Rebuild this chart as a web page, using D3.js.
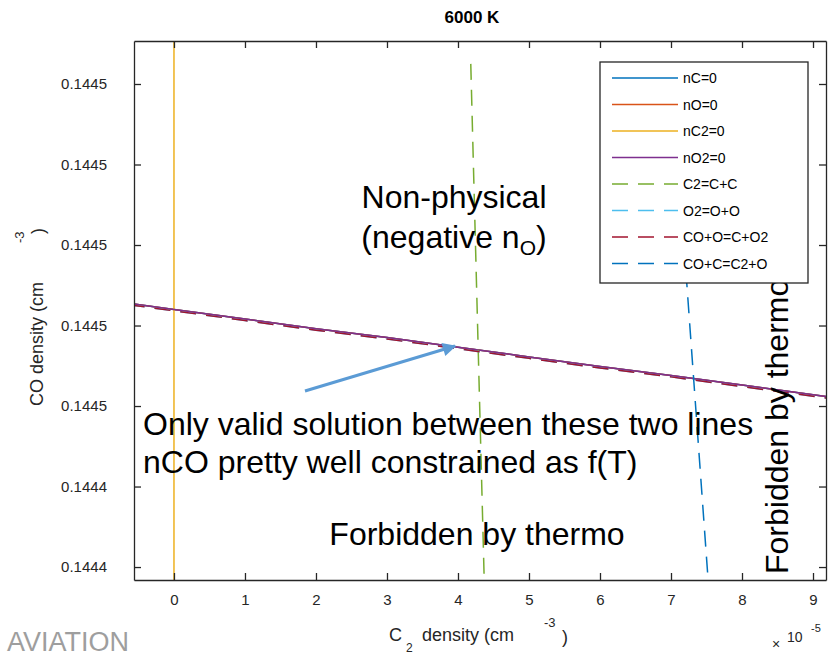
<!DOCTYPE html>
<html><head><meta charset="utf-8">
<script src="https://cdn.jsdelivr.net/npm/d3@7"></script>
<style>body{margin:0;background:#fff} svg{display:block} text{font-family:"Liberation Sans",Arial,Helvetica,sans-serif}</style>
</head><body><svg id="c" width="830" height="652"></svg>
<script>
// ---- data ----
const xTicks = [0,1,2,3,4,5,6,7,8,9];
const xTickLabels = ["0","1","2","3","4","5","6","7","8","9"];
const yTicks = [0.14444,0.14445,0.14446,0.14447,0.14448,0.14449,0.14450];
const yTickLabels = ["0.1444","0.1444","0.1445","0.1445","0.1445","0.1445","0.1445"];

// main CO line (nC=0, nO=0, nO2=0 overlap)
const xMain = [-1,0,1,2,3,4,5,6,7,8,9,10];
const yMain = [0.1444732,0.1444720,0.1444708,0.1444696,0.1444685,0.1444673,0.1444661,0.1444649,0.1444638,0.1444626,0.1444614,0.1444602];
// reaction lines lying on the main line
const yCOO  = [0.14447302,0.14447182,0.14447062,0.14446942,0.14446832,0.14446712,0.14446592,0.14446472,0.14446362,0.14446242,0.14446122,0.14446002];
// nC2 = 0
const xNC2 = [0,0];
const yNC2 = [0.1444370,0.1445060];
// C2=C+C
const xC2 = [4.18,4.372];
const yC2 = [0.1445025,0.1444375];
// CO+C=C2+O
const xCOC = [7.00,7.53];
const yCOC = [0.1445025,0.1444375];

const seriesNames  = ["nC=0","nO=0","nC2=0","nO2=0","C2=C+C","O2=O+O","CO+O=C+O2","CO+C=C2+O"];
const seriesColors = ["#0072BD","#D95319","#EDB120","#7E2F8E","#77AC30","#4DBEEE","#A2142F","#0072BD"];
const seriesDashed = [false,false,false,false,true,true,true,true];
const seriesX = [xMain,xMain,xNC2,xMain,xC2,xMain,xMain,xCOC];
const seriesY = [yMain,yMain,yNC2,yMain,yC2,yCOO,yCOO,yCOC];

// ---- layout ----
const svg = d3.select("#c");
const L=134, R=826, T=41, B=580;
const x = d3.scaleLinear().domain([-0.563,9.183]).range([L,R]);
const y = d3.scaleLinear().domain([0.14443839,0.14450534]).range([B,T]);
const axisCol = "#262626";

const defs = svg.append("defs");
defs.append("clipPath").attr("id","clip")
  .append("rect").attr("x",L).attr("y",T).attr("width",R-L).attr("height",B-T);

// title
svg.append("text").attr("x",472).attr("y",23).attr("text-anchor","middle")
  .attr("font-size",17).attr("font-weight","bold").attr("fill","#000").text("6000 K");

// series
const gS = svg.append("g").attr("clip-path","url(#clip)");
const line = d3.line().x(d=>x(d[0])).y(d=>y(d[1]));
seriesNames.forEach((n,i)=>{
  const pts = seriesX[i].map((v,j)=>[v,seriesY[i][j]]);
  gS.append("path").attr("d",line(pts)).attr("fill","none")
    .attr("stroke",seriesColors[i]).attr("stroke-width",1.5)
    .attr("stroke-dasharray",seriesDashed[i]?"16,10":null);
});

// axes
const axBottom = d3.axisBottom(x).tickValues(xTicks).tickFormat((d,i)=>xTickLabels[i]).tickSizeInner(-7).tickSizeOuter(0).tickPadding(14);
const axTop = d3.axisTop(x).tickValues(xTicks).tickFormat("").tickSizeInner(-7).tickSizeOuter(0);
const axLeft = d3.axisLeft(y).tickValues(yTicks).tickFormat((d,i)=>yTickLabels[i]).tickSizeInner(-7).tickSizeOuter(0).tickPadding(27);
const axRight = d3.axisRight(y).tickValues(yTicks).tickFormat("").tickSizeInner(-7).tickSizeOuter(0);
[[axBottom,`translate(0,${B})`],[axTop,`translate(0,${T})`],[axLeft,`translate(${L},0)`],[axRight,`translate(${R},0)`]].forEach(([a,t])=>{
  const g = svg.append("g").attr("transform",t).call(a);
  g.selectAll("path,line").attr("stroke",axisCol).attr("stroke-width",1.3);
  g.selectAll("text").attr("fill",axisCol).attr("font-size",15)
    .attr("font-family",'"Liberation Sans",Arial,sans-serif');
});

// x label
const xl = svg.append("g").attr("fill","#262626");
xl.append("text").attr("x",389).attr("y",641).attr("font-size",18).text("C");
xl.append("text").attr("x",406).attr("y",652).attr("font-size",12).text("2");
xl.append("text").attr("x",422).attr("y",641).attr("font-size",18).text("density (cm");
xl.append("text").attr("x",544).attr("y",627).attr("font-size",13).text("-3");
xl.append("text").attr("x",562).attr("y",643).attr("font-size",18).text(")");
xl.append("text").attr("x",772).attr("y",649).attr("font-size",14).text("×");
xl.append("text").attr("x",787).attr("y",642).attr("font-size",14).text("10");
xl.append("text").attr("x",811).attr("y",632).attr("font-size",11).text("-5");

// y label
const yl = svg.append("g").attr("fill","#262626");
yl.append("text").attr("transform","translate(43,406) rotate(-90)").attr("font-size",18).text("CO density (cm");
yl.append("text").attr("transform","translate(24,243) rotate(-90)").attr("font-size",13).text("-3");
yl.append("text").attr("transform","translate(44,234) rotate(-90)").attr("font-size",18).text(")");

// annotations (data coordinates)
const arrowFrom = [1.845,0.14446186];
const arrowTo   = [3.958,0.14446745];
defs.append("marker").attr("id","ah").attr("viewBox","0 0 10 10").attr("refX",9).attr("refY",5)
  .attr("markerWidth",5).attr("markerHeight",4.5).attr("markerUnits","strokeWidth").attr("orient","auto")
  .append("path").attr("d","M0,0L10,5L0,10z").attr("fill","#5B9BD5");
svg.append("line").attr("x1",x(arrowFrom[0])).attr("y1",y(arrowFrom[1]))
  .attr("x2",x(arrowTo[0])).attr("y2",y(arrowTo[1]))
  .attr("stroke","#5B9BD5").attr("stroke-width",3).attr("marker-end","url(#ah)");

const big = svg.append("g").attr("fill","#000").attr("font-size",32);
big.append("text").attr("x",454).attr("y",208).attr("text-anchor","middle").text("Non-physical");
const t2 = big.append("text").attr("x",454).attr("y",248).attr("text-anchor","middle");
t2.append("tspan").text("(negative n");
t2.append("tspan").attr("font-size",21).attr("dy",7).text("O");
t2.append("tspan").attr("dy",-7).text(")");
big.append("text").attr("x",143).attr("y",435).text("Only valid solution between these two lines");
big.append("text").attr("x",143).attr("y",473).text("nCO pretty well constrained as f(T)");
big.append("text").attr("x",477).attr("y",545).attr("text-anchor","middle").text("Forbidden by thermo");
big.append("text").attr("transform","translate(788,574) rotate(-90)").text("Forbidden by thermo");

// legend
const lg = svg.append("g");
lg.append("rect").attr("x",600).attr("y",62).attr("width",208).attr("height",221)
  .attr("fill","#fff").attr("stroke",axisCol).attr("stroke-width",1.3);
seriesNames.forEach((n,i)=>{
  const cy = 78 + i*26.5;
  lg.append("line").attr("x1",612).attr("x2",678).attr("y1",cy).attr("y2",cy)
    .attr("stroke",seriesColors[i]).attr("stroke-width",1.5)
    .attr("stroke-dasharray",seriesDashed[i]?"16,10":null);
  lg.append("text").attr("x",683).attr("y",cy+5).attr("font-size",14).attr("fill","#000").text(n);
});

// watermark
svg.append("text").attr("x",7).attr("y",651).attr("font-size",27).attr("fill","#9e9e9e").text("AVIATION");
</script></body></html>
